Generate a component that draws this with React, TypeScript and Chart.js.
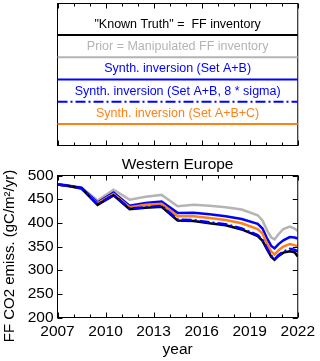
import React, { useEffect, useRef } from 'react';
import { Chart, registerables } from 'chart.js';

Chart.register(...registerables);

const FONT = '"Liberation Sans", Arial, Helvetica, sans-serif';

// x positions (years) of the series
const years = [2007, 2007.5, 2008.5, 2009.5, 2010.5, 2011.5, 2012.5, 2013.5, 2014.5, 2015.5, 2016.5, 2017.5, 2018.5, 2019.5, 2019.8, 2020.1, 2020.35, 2020.55, 2020.8, 2021.1, 2021.5, 2021.8, 2022];

const truth = [481, 479, 473, 438, 458, 429, 432, 434, 405, 404, 399, 395, 386, 372, 362, 343, 328, 322, 330, 337, 340, 338, 329];
const prior = [481, 480, 475, 447, 470, 449, 455, 459, 435, 438, 436, 433, 428, 416, 405, 383, 369, 365, 376, 387, 392, 388, 383];
const setAB = [481, 479.5, 474, 443, 464, 436, 442, 445, 421, 421.5, 418, 414, 408, 398, 388, 366, 351, 346, 355, 363, 370, 369, 367];
const setAB8 = [481, 479, 473, 439, 459, 430, 433, 436, 407, 406, 401, 397, 388, 374, 364, 345, 330, 323, 332, 339, 345, 343, 340];
const setABC = [481, 479, 472, 441, 461, 433, 438, 440, 414, 414, 410, 406, 399, 387, 377, 355, 339, 333, 342, 350, 355, 353, 350];

const labels = [
  '"Known Truth" =  FF inventory',
  'Prior = Manipulated FF inventory',
  'Synth. inversion (Set A+B)',
  'Synth. inversion (Set A+B, 8 * sigma)',
  'Synth. inversion (Set A+B+C)',
];

const colors = ['#000000', '#b4b4b4', '#0000ff', '#0000ff', '#ff8014'];
const dashes: number[][] = [[], [], [], [10, 3, 2, 3], []];
const drawOrder = [1, 4, 3, 0, 2];
const seriesValues = [truth, prior, setAB, setAB8, setABC];

const xMin = 2007;
const xMax = 2022;
const yMin = 200;
const yMax = 500;

const title = 'Western Europe';
const yTitle = 'FF CO2 emiss. (gC/m\u00B2/yr)';
const xTitle = 'year';

const framePlugin = {
  id: 'frameAndLegend',
  afterDraw(chart: any) {
    const { ctx, chartArea: a } = chart;
    const x = chart.scales.x;
    const y = chart.scales.y;
    ctx.save();
    ctx.strokeStyle = '#000';
    ctx.lineWidth = 1;
    const line = (x1: number, y1: number, x2: number, y2: number) => {
      ctx.beginPath();
      ctx.moveTo(x1, y1);
      ctx.lineTo(x2, y2);
      ctx.stroke();
    };
    // main plot frame
    ctx.strokeRect(a.left, a.top, a.right - a.left, a.bottom - a.top);
    // legend panel frame
    const pTop = 3.5;
    const pBot = 145.5;
    ctx.strokeRect(a.left, pTop, a.right - a.left, pBot - pTop);
    // x ticks (inside) on both panels
    for (let yr = xMin; yr <= xMax; yr++) {
      const px = Math.round(x.getPixelForValue(yr)) + 0.5;
      const len = (yr - xMin) % 3 === 0 ? 5 : 3;
      line(px, a.bottom, px, a.bottom - len);
      line(px, a.top, px, a.top + len);
      line(px, pBot, px, pBot - len);
      line(px, pTop, px, pTop + len);
    }
    // y ticks (inside)
    for (let v = yMin; v <= yMax; v += 50) {
      const py = Math.round(y.getPixelForValue(v)) + 0.5;
      line(a.left, py, a.left + 5, py);
      line(a.right, py, a.right - 5, py);
    }
    // legend entries
    const cx = (a.left + a.right) / 2;
    chart.data.datasets.forEach((ds: any, i: number) => {
      const ly = 35 + i * 22.25;
      ctx.save();
      ctx.strokeStyle = ds.borderColor;
      ctx.lineWidth = 2;
      ctx.setLineDash(ds.borderDash || []);
      line(a.left, ly, a.right, ly);
      ctx.restore();
      ctx.fillStyle = ds.borderColor;
      ctx.font = `12.5px ${FONT}`;
      ctx.textAlign = 'center';
      ctx.textBaseline = 'middle';
      ctx.fillText(ds.label, cx, ly - 10.5);
    });
    // title
    ctx.fillStyle = '#000';
    ctx.font = `15.5px ${FONT}`;
    ctx.textAlign = 'center';
    ctx.textBaseline = 'middle';
    ctx.fillText(title, cx, 165);
    // y title
    ctx.save();
    ctx.translate(10, 256);
    ctx.rotate(-Math.PI / 2);
    ctx.font = `15px ${FONT}`;
    ctx.fillText(yTitle, 0, 0);
    ctx.restore();
    ctx.restore();
  },
};

export default function App() {
  const ref = useRef<HTMLCanvasElement>(null);
  useEffect(() => {
    if (!ref.current) return;
    const datasets = labels.map((label, i) => ({
      label,
      data: years.map((yr, k) => ({ x: yr, y: seriesValues[i][k] })),
      borderColor: colors[i],
      backgroundColor: colors[i],
      borderDash: dashes[i],
      borderWidth: 2.5,
      pointRadius: 0,
      tension: 0,
      fill: false,
      order: drawOrder[i],
    }));
    const chart = new Chart(ref.current, {
      type: 'line',
      data: { datasets },
      options: {
        responsive: false,
        animation: false,
        devicePixelRatio: 1,
        layout: { padding: { left: 0, right: 19.5, top: 175.5, bottom: 0 } },
        plugins: { legend: { display: false }, tooltip: { enabled: false }, title: { display: false } },
        scales: {
          x: {
            type: 'linear',
            min: xMin,
            max: xMax,
            grid: { display: false, drawTicks: false, tickLength: 0 },
            border: { display: false },
            ticks: {
              stepSize: 3,
              color: '#000',
              font: { family: FONT, size: 15.5 },
              padding: 5,
              maxRotation: 0,
              callback: (v: any) => String(v),
            },
            title: {
              display: true,
              text: xTitle,
              color: '#000',
              font: { family: FONT, size: 15.5 },
              padding: { top: 0, bottom: 2 },
            },
            afterFit: (s: any) => {
              s.height = 43.5;
            },
          },
          y: {
            type: 'linear',
            min: yMin,
            max: yMax,
            grid: { display: false, drawTicks: false, tickLength: 0 },
            border: { display: false },
            ticks: {
              stepSize: 50,
              color: '#000',
              font: { family: FONT, size: 15.5 },
              padding: 4,
              callback: (v: any) => String(v),
            },
            afterFit: (s: any) => {
              s.width = 57.5;
            },
          },
        },
      },
      plugins: [framePlugin],
    });
    return () => chart.destroy();
  }, []);
  return (
    <div style={{ position: 'fixed', left: 0, top: 0, width: 320, height: 361, background: '#fff' }}>
      <canvas ref={ref} width={320} height={361} />
    </div>
  );
}
